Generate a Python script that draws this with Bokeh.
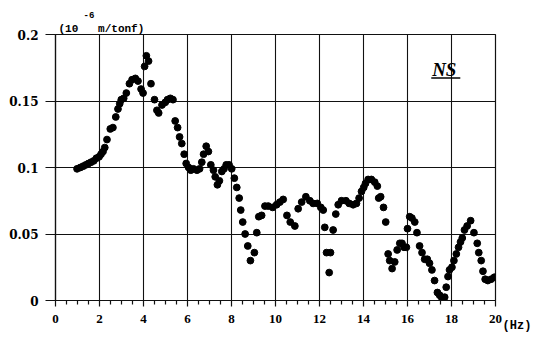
from bokeh.plotting import figure
from bokeh.models import Range1d, FixedTicker, Label, Title
from bokeh.embed import file_html
from bokeh.resources import INLINE

# Frequency (Hz)
freq_hz = [
    0.98, 1.13, 1.26, 1.38, 1.50, 1.62, 1.74, 1.86, 1.98, 2.07,
    2.16, 2.24, 2.34, 2.49, 2.61, 2.74, 2.84, 2.92, 2.99, 3.10,
    3.22, 3.36, 3.48, 3.63, 3.75, 3.89, 3.98, 4.05, 4.13, 4.23,
    4.34, 4.50, 4.61, 4.69, 4.84, 4.99, 5.09, 5.22, 5.34, 5.44,
    5.55, 5.64, 5.74, 5.85, 5.94, 6.05, 6.15, 6.27, 6.43, 6.55,
    6.65, 6.73, 6.85, 6.95, 7.06, 7.18, 7.26, 7.36, 7.45, 7.56,
    7.66, 7.76, 7.89, 8.01, 8.13, 8.24, 8.35, 8.42, 8.51, 8.62,
    8.74, 8.86, 9.04, 9.15, 9.24, 9.37, 9.52, 9.67, 9.87, 10.05,
    10.20, 10.35, 10.52, 10.67, 10.88, 11.03, 11.19, 11.38, 11.56, 11.71,
    11.90, 12.06, 12.17, 12.24, 12.32, 12.44, 12.50, 12.62, 12.74, 12.85,
    13.00, 13.20, 13.35, 13.53, 13.68, 13.80, 13.91, 14.01, 14.09, 14.21,
    14.36, 14.51, 14.63, 14.69, 14.78, 14.91, 15.01, 15.12, 15.19, 15.30,
    15.42, 15.53, 15.65, 15.75, 15.84, 15.95, 16.00, 16.10, 16.20, 16.33,
    16.43, 16.55, 16.66, 16.78, 16.90, 17.00, 17.11, 17.23, 17.36, 17.46,
    17.56, 17.69, 17.76, 17.84, 17.91, 18.02, 18.11, 18.22, 18.32, 18.41,
    18.49, 18.59, 18.71, 18.87, 19.02, 19.17, 19.24, 19.35, 19.43, 19.53,
    19.65, 19.80, 19.95,
]

# Compliance (10^-6 m/tonf), NS direction
compliance_ns = [
    0.099, 0.100, 0.101, 0.102, 0.103, 0.104, 0.105, 0.107, 0.108, 0.110,
    0.112, 0.115, 0.121, 0.129, 0.130, 0.138, 0.144, 0.148, 0.151, 0.152,
    0.156, 0.163, 0.166, 0.167, 0.165, 0.159, 0.156, 0.176, 0.184, 0.180,
    0.163, 0.151, 0.143, 0.141, 0.147, 0.149, 0.151, 0.152, 0.151, 0.135,
    0.130, 0.123, 0.118, 0.110, 0.103, 0.100, 0.098, 0.099, 0.098, 0.099,
    0.104, 0.110, 0.116, 0.112, 0.102, 0.098, 0.093, 0.087, 0.090, 0.097,
    0.099, 0.102, 0.102, 0.099, 0.092, 0.085, 0.077, 0.068, 0.059, 0.050,
    0.041, 0.030, 0.036, 0.051, 0.063, 0.064, 0.071, 0.071, 0.070, 0.072,
    0.074, 0.076, 0.064, 0.059, 0.056, 0.069, 0.074, 0.078, 0.075, 0.073,
    0.073, 0.070, 0.068, 0.055, 0.036, 0.021, 0.036, 0.053, 0.065, 0.072,
    0.075, 0.075, 0.073, 0.072, 0.073, 0.077, 0.082, 0.085, 0.088, 0.091,
    0.091, 0.089, 0.086, 0.077, 0.078, 0.070, 0.059, 0.035, 0.030, 0.024,
    0.029, 0.038, 0.043, 0.043, 0.040, 0.040, 0.054, 0.063, 0.062, 0.059,
    0.051, 0.041, 0.036, 0.031, 0.031, 0.028, 0.023, 0.015, 0.006, 0.004,
    0.002, 0.0025, 0.010, 0.018, 0.023, 0.025, 0.030, 0.035, 0.040, 0.044,
    0.047, 0.053, 0.056, 0.060, 0.051, 0.043, 0.036, 0.030, 0.022, 0.016,
    0.015, 0.016, 0.0175,
]

x_ticks = [0, 2, 4, 6, 8, 10, 12, 14, 16, 18, 20]
x_tick_labels = ["0", "2", "4", "6", "8", "10", "12", "14", "16", "18", "20"]
y_ticks = [0, 0.05, 0.1, 0.15, 0.2]
y_tick_labels = ["0", "0.05", "0.1", "0.15", "0.2"]

p = figure(width=533, height=339, output_backend="svg", toolbar_location=None,
           x_range=Range1d(0, 20), y_range=Range1d(0, 0.2),
           min_border_left=55, min_border_right=38,
           min_border_top=34, min_border_bottom=39)

p.background_fill_color = "white"
p.border_fill_color = "white"
p.outline_line_color = "#111111"
p.outline_line_width = 1.2

minor = [t + d for t in x_ticks[:-1] for d in (0.5, 1.0, 1.5)]
p.xaxis.ticker = FixedTicker(ticks=x_ticks, minor_ticks=minor)
p.xaxis.major_label_overrides = dict(zip(x_ticks, x_tick_labels))
p.yaxis.ticker = FixedTicker(ticks=y_ticks)
p.yaxis.major_label_overrides = dict(zip(y_ticks, y_tick_labels))

for ax in (p.xaxis, p.yaxis):
    ax.axis_line_color = "#111111"
    ax.axis_line_width = 1.2
    ax.major_tick_line_color = "#111111"
    ax.major_tick_line_width = 1.2
    ax.major_tick_in = 0
    ax.major_label_text_font_style = "bold"
    ax.major_label_text_color = "black"

p.xaxis.major_label_text_font = "Liberation Serif"
p.xaxis.major_label_text_font_size = "13px"
p.yaxis.major_label_text_font = "DejaVu Serif"
p.yaxis.major_label_text_font_size = "12px"

p.xaxis.major_tick_out = 6
p.xaxis.minor_tick_out = 4
p.xaxis.minor_tick_in = 0
p.xaxis.minor_tick_line_color = "#111111"
p.xaxis.minor_tick_line_width = 1.2
p.xaxis.major_label_standoff = 8

p.yaxis.major_tick_out = 10
p.yaxis.minor_tick_line_color = None
p.yaxis.major_label_standoff = 7

p.grid.grid_line_color = "#111111"
p.grid.grid_line_width = 1.1
p.grid.grid_line_alpha = 1.0

p.scatter(freq_hz, compliance_ns, size=6.8, color="black", marker="circle")

# Unit label of the y axis, above the frame
p.add_layout(Title(text="(10\u00a0\u00a0\u00a0m/tonf)", align="left", offset=3,
                   text_font="Liberation Mono", text_font_size="11px",
                   text_font_style="bold", text_color="black", standoff=0), "above")
p.add_layout(Title(text="-6", align="left", offset=28,
                   text_font="Liberation Mono", text_font_size="9px",
                   text_font_style="bold", text_color="black", standoff=5), "above")

# Unit label of the x axis (in the right side panel, so it is not clipped)
p.add_layout(Label(x=20.32, y=-0.0195, text="(Hz)",
                   text_font="Liberation Mono", text_font_size="12px",
                   text_font_style="bold", text_baseline="alphabetic",
                   text_color="black"), "right")

# Direction label
p.add_layout(Label(x=17.12, y=0.1737, text="NS",
                   text_font="Liberation Serif", text_font_size="19px",
                   text_font_style="bold italic", text_baseline="alphabetic",
                   text_color="black"))
p.segment(x0=[17.08], y0=[0.1673], x1=[18.40], y1=[0.1673],
          line_color="black", line_width=1.5)

open("out.html", "w").write(file_html(p, INLINE))
